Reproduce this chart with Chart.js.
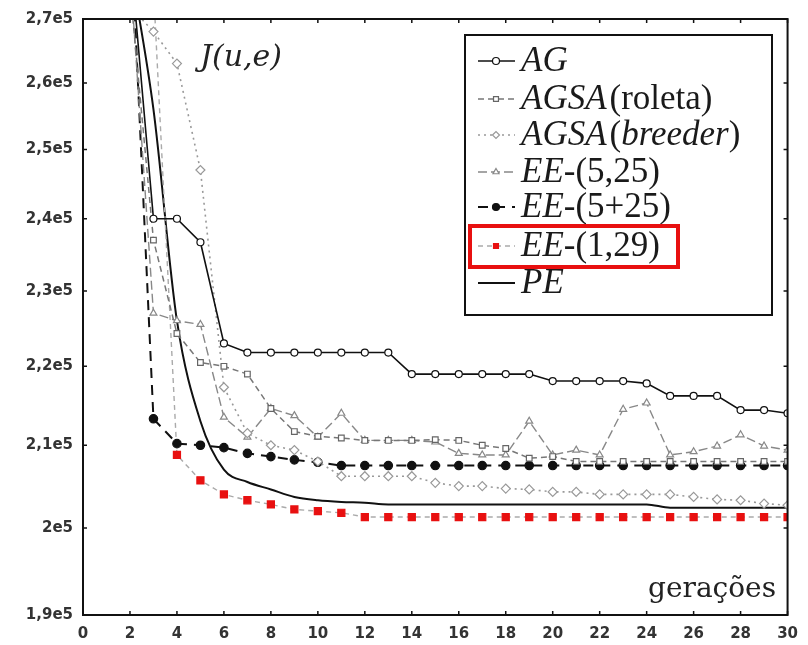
<!DOCTYPE html>
<html>
<head>
<meta charset="utf-8">
<script src="https://cdn.jsdelivr.net/npm/chart.js@4.4.1/dist/chart.umd.min.js"></script>
<style>
  html, body { margin: 0; padding: 0; background: #fff; }
</style>
</head>
<body>
<canvas id="myChart" width="808" height="645"></canvas>
<script>
// generations 2..30 (values at x=2 sit above the plotted window)
const generations = [2, 3, 4, 5, 6, 7, 8, 9, 10, 11, 12, 13, 14, 15, 16, 17, 18, 19, 20, 21, 22, 23, 24, 25, 26, 27, 28, 29, 30];

const ag = [2.81e5, 2.40e5, 2.40e5, 2.367e5, 2.23e5, 2.218e5, 2.218e5, 2.218e5, 2.218e5, 2.218e5, 2.218e5, 2.218e5,
  2.19e5, 2.19e5, 2.19e5, 2.19e5, 2.19e5, 2.19e5, 2.181e5, 2.181e5, 2.181e5, 2.181e5, 2.178e5,
  2.162e5, 2.162e5, 2.162e5, 2.144e5, 2.144e5, 2.14e5];
const agsaRoleta = [2.75e5, 2.37e5, 2.243e5, 2.205e5, 2.20e5, 2.19e5, 2.146e5, 2.117e5, 2.111e5, 2.109e5, 2.106e5, 2.106e5,
  2.106e5, 2.107e5, 2.106e5, 2.10e5, 2.096e5, 2.084e5, 2.086e5, 2.08e5, 2.08e5, 2.08e5, 2.08e5,
  2.08e5, 2.08e5, 2.08e5, 2.08e5, 2.08e5, 2.08e5];
const agsaBreeder = [2.72e5, 2.68e5, 2.63e5, 2.47e5, 2.173e5, 2.115e5, 2.10e5, 2.094e5, 2.08e5, 2.062e5, 2.062e5, 2.062e5,
  2.062e5, 2.054e5, 2.05e5, 2.05e5, 2.047e5, 2.046e5, 2.043e5, 2.043e5, 2.04e5, 2.04e5, 2.04e5,
  2.04e5, 2.037e5, 2.034e5, 2.033e5, 2.029e5, 2.027e5];
const ee5c25 = [2.78e5, 2.27e5, 2.26e5, 2.255e5, 2.135e5, 2.11e5, 2.146e5, 2.137e5, 2.11e5, 2.14e5, 2.106e5, 2.106e5,
  2.106e5, 2.104e5, 2.09e5, 2.088e5, 2.088e5, 2.13e5, 2.088e5, 2.094e5, 2.088e5, 2.145e5, 2.153e5,
  2.088e5, 2.092e5, 2.099e5, 2.113e5, 2.099e5, 2.094e5];
const ee5p25 = [2.88e5, 2.133e5, 2.102e5, 2.10e5, 2.097e5, 2.09e5, 2.086e5, 2.082e5, 2.079e5, 2.075e5, 2.075e5, 2.075e5,
  2.075e5, 2.075e5, 2.075e5, 2.075e5, 2.075e5, 2.075e5, 2.075e5, 2.075e5, 2.075e5, 2.075e5, 2.075e5,
  2.075e5, 2.075e5, 2.075e5, 2.075e5, 2.075e5, 2.075e5];
const ee1c29 = [3.0e5, 2.75e5, 2.088e5, 2.057e5, 2.04e5, 2.033e5, 2.028e5, 2.022e5, 2.02e5, 2.018e5, 2.013e5, 2.013e5,
  2.013e5, 2.013e5, 2.013e5, 2.013e5, 2.013e5, 2.013e5, 2.013e5, 2.013e5, 2.013e5, 2.013e5, 2.013e5,
  2.013e5, 2.013e5, 2.013e5, 2.013e5, 2.013e5, 2.013e5];
const pe = [2.79e5, 2.56e5, 2.26e5, 2.13e5, 2.07e5, 2.055e5, 2.046e5, 2.037e5, 2.033e5, 2.031e5, 2.03e5, 2.028e5,
  2.028e5, 2.028e5, 2.028e5, 2.028e5, 2.028e5, 2.028e5, 2.028e5, 2.028e5, 2.028e5, 2.028e5, 2.028e5,
  2.024e5, 2.024e5, 2.024e5, 2.024e5, 2.024e5, 2.024e5];

const xTicks = [0, 2, 4, 6, 8, 10, 12, 14, 16, 18, 20, 22, 24, 26, 28, 30];
const yTicks = [1.9e5, 2.0e5, 2.1e5, 2.2e5, 2.3e5, 2.4e5, 2.5e5, 2.6e5, 2.7e5];
const yTickLabels = ["1,9e5", "2e5", "2,1e5", "2,2e5", "2,3e5", "2,4e5", "2,5e5", "2,6e5", "2,7e5"];

const series = [
  { label: "AG", data: ag, color: "#111", width: 1.6, dash: [], point: "circle", radius: 3.5, fill: "#fff", pointColor: "#111",
    text: [["AG", true]] },
  { label: "AGSA (roleta)", data: agsaRoleta, color: "#777", width: 1.5, dash: [6, 4], point: "rect", radius: 4, fill: "#fff", pointColor: "#666",
    text: [["AGSA", true], ["(roleta)", false, 3]] },
  { label: "AGSA (breeder)", data: agsaBreeder, color: "#999", width: 1.6, dash: [2, 4], point: "rectRot", radius: 4.5, fill: "#fff", pointColor: "#999",
    text: [["AGSA", true], ["(", false, 3], ["breeder", true], [")", false]] },
  { label: "EE-(5,25)", data: ee5c25, color: "#888", width: 1.4, dash: [9, 4], point: "triangle", radius: 4, fill: "#fff", pointColor: "#888",
    text: [["EE", true], ["-(5,25)", false]] },
  { label: "EE-(5+25)", data: ee5p25, color: "#111", width: 2, dash: [10, 7], point: "circle", radius: 4.2, fill: "#111", pointColor: "#111",
    text: [["EE", true], ["-(5+25)", false]] },
  { label: "EE-(1,29)", data: ee1c29, color: "#aaa", width: 1.4, dash: [5, 4], point: "rect", radius: 5, fill: "#e81010", pointColor: "#e81010",
    text: [["EE", true], ["-(1,29)", false]] },
  { label: "PE", data: pe, color: "#111", width: 2, dash: [], point: false, radius: 0, fill: "#111", pointColor: "#111",
    text: [["PE", true]], smooth: true },
];

const serifFont = '"DejaVu Serif", "Liberation Serif", serif';
const legendFont = '"Liberation Serif", "Times New Roman", serif';

// frame with inward tick marks, legend box, and the two free labels
const decorations = {
  id: "decorations",
  afterDatasetsDraw(chart) {
    const { ctx, chartArea: a, scales } = chart;
    ctx.save();
    ctx.strokeStyle = "#111";
    ctx.lineWidth = 2;
    ctx.setLineDash([]);
    ctx.strokeRect(a.left, a.top, a.right - a.left, a.bottom - a.top);
    ctx.lineWidth = 1.5;
    ctx.beginPath();
    xTicks.forEach((v) => {
      const px = scales.x.getPixelForValue(v);
      ctx.moveTo(px, a.bottom); ctx.lineTo(px, a.bottom - 4);
      ctx.moveTo(px, a.top); ctx.lineTo(px, a.top + 4);
    });
    yTicks.forEach((v) => {
      const py = scales.y.getPixelForValue(v);
      ctx.moveTo(a.left, py); ctx.lineTo(a.left + 4, py);
      ctx.moveTo(a.right, py); ctx.lineTo(a.right - 4, py);
    });
    ctx.stroke();

    // J(u,e) label
    ctx.fillStyle = "#222";
    ctx.font = "italic 30px " + serifFont;
    ctx.textBaseline = "middle";
    ctx.textAlign = "left";
    ctx.fillText("J(u,e)", 200, 58);

    // x axis title inside plot
    ctx.font = "28px " + serifFont;
    ctx.fillText("gerações", 648, 590);

    // legend
    const box = { x: 465, y: 35, w: 307, h: 280 };
    ctx.fillStyle = "#fff";
    ctx.fillRect(box.x, box.y, box.w, box.h);
    ctx.strokeStyle = "#111";
    ctx.lineWidth = 2;
    ctx.strokeRect(box.x, box.y, box.w, box.h);

    const rows = [61, 99, 135, 172, 207, 246, 283];
    series.forEach((s, i) => {
      const y = rows[i];
      ctx.strokeStyle = s.color;
      ctx.lineWidth = s.width;
      ctx.setLineDash(s.dash);
      ctx.beginPath();
      ctx.moveTo(478, y); ctx.lineTo(515, y);
      ctx.stroke();
      ctx.setLineDash([]);
      if (s.point) {
        ctx.fillStyle = s.fill;
        ctx.strokeStyle = s.pointColor;
        ctx.lineWidth = 1.2;
        Chart.helpers.drawPoint(ctx, { pointStyle: s.point, radius: Math.min(s.radius, 3.5), borderWidth: 1.2, rotation: 0 }, 496, y);
      }
      let tx = 521;
      ctx.fillStyle = "#1a1a1a";
      s.text.forEach(([t, italic, gap]) => {
        tx += gap || 0;
        ctx.font = (italic ? "italic " : "") + "35px " + legendFont;
        ctx.fillText(t, tx, y + 1);
        tx += ctx.measureText(t).width;
      });
    });

    ctx.strokeStyle = "#e81010";
    ctx.lineWidth = 4;
    ctx.strokeRect(470, 226, 208, 41);
    ctx.restore();
  },
};

const ctx = document.getElementById("myChart");
new Chart(ctx, {
  type: "line",
  data: {
    datasets: series.map((s) => ({
      label: s.label,
      data: s.data.map((v, i) => ({ x: generations[i], y: v })),
      borderColor: s.color,
      borderWidth: s.width,
      borderDash: s.dash,
      pointStyle: s.point,
      pointRadius: s.radius,
      pointBackgroundColor: s.fill,
      pointBorderColor: s.pointColor,
      pointBorderWidth: 1.2,
      cubicInterpolationMode: s.smooth ? "monotone" : "default",
      tension: 0,
      fill: false,
      clip: { left: 2, top: 0, right: 0, bottom: 2 },
    })),
  },
  options: {
    responsive: false,
    animation: false,
    layout: { padding: { top: 18, right: 20, left: 0, bottom: 0 } },
    plugins: { legend: { display: false }, tooltip: { enabled: false } },
    scales: {
      x: {
        type: "linear",
        min: 0,
        max: 30,
        grid: { display: false, drawTicks: false },
        border: { display: false },
        afterBuildTicks: (scale) => { scale.ticks = xTicks.map((v) => ({ value: v })); },
        afterFit: (scale) => { scale.height = 30; },
        ticks: {
          autoSkip: false,
          maxRotation: 0,
          padding: 10,
          color: "#333",
          font: { family: '"DejaVu Sans"', size: 15, weight: "bold" },
        },
      },
      y: {
        type: "logarithmic",
        min: 1.9e5,
        max: 2.7e5,
        grid: { display: false, drawTicks: false },
        border: { display: false },
        afterBuildTicks: (scale) => { scale.ticks = yTicks.map((v) => ({ value: v })); },
        afterFit: (scale) => { scale.width = 83; },
        ticks: {
          autoSkip: false,
          padding: 10,
          color: "#333",
          font: { family: '"DejaVu Sans"', size: 15, weight: "bold" },
          callback: (value, index) => yTickLabels[index],
        },
      },
    },
  },
  plugins: [decorations],
});
</script>
</body>
</html>
